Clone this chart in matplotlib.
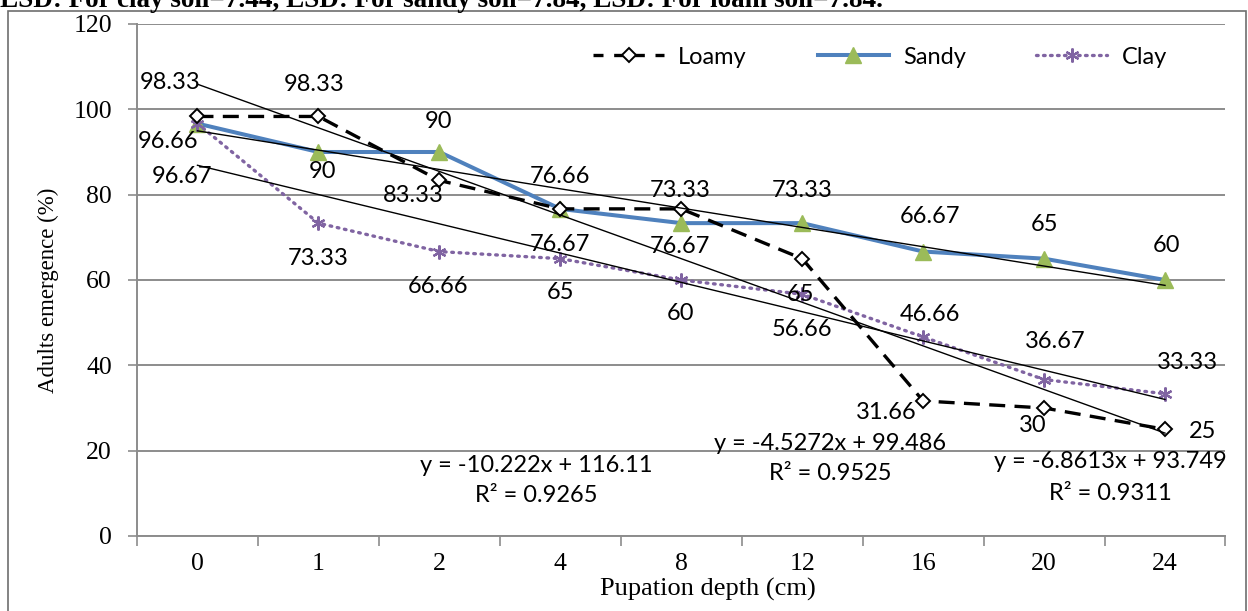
import matplotlib
matplotlib.use("Agg")
import matplotlib.pyplot as plt
from matplotlib.lines import Line2D
import numpy as np

# ---------------- data ----------------
depths = ["0", "1", "2", "4", "8", "12", "16", "20", "24"]
loamy = [98.33, 98.33, 83.33, 76.67, 76.67, 65, 31.66, 30, 25]
sandy = [96.66, 90, 90, 76.66, 73.33, 73.33, 66.67, 65, 60]
clay = [96.67, 73.33, 66.66, 65, 60, 56.66, 46.66, 36.67, 33.33]

loamy_labels = ["98.33", "98.33", "83.33", "76.67", "76.67", "65", "31.66", "30", "25"]
sandy_labels = ["96.66", "90", "90", "76.66", "73.33", "73.33", "66.67", "65", "60"]
clay_labels = ["96.67", "73.33", "66.66", "65", "60", "56.66", "46.66", "36.67", "33.33"]

# linear trendlines (x = 1..9), as reported on chart
trend_slope = {"Loamy": -10.222, "Sandy": -4.5272, "Clay": -6.8613}
trend_icpt = {"Loamy": 116.11, "Sandy": 99.486, "Clay": 93.749}
trend_r2 = {"Loamy": "0.9265", "Sandy": "0.9525", "Clay": "0.9311"}

title_text = "LSD: For clay soil=7.44, LSD: For sandy soil=7.84, LSD: For loam soil=7.84."

# label offsets (pixels, image coords: +dy = downward)
loamy_off = [(-27, -34), (-4, -32), (-26, 15), (0, 36), (-1, 38), (-2, 36), (-37, 12), (-11, 17), (38, 2)]
sandy_off = [(-29, 18), (4, 20), (-1, -30), (0, -32), (-1, -33), (0, -33), (7, -35), (0, -34), (1, -34)]
clay_off = [(-15, 53), (0, 35), (-1, 35), (0, 34), (-1, 34), (0, 35), (7, -22), (11, -38), (22, -31)]

# ---------------- figure ----------------
W, H = 1248, 611
fig = plt.figure(figsize=(W / 100, H / 100), dpi=100)
fig.patch.set_facecolor("white")

ax_l, ax_r, ax_t, ax_b = 137, 1225.5, 24, 536
ax = fig.add_axes([ax_l / W, 1 - ax_b / H, (ax_r - ax_l) / W, (ax_b - ax_t) / H])

SANS = ["Lato", "DejaVu Sans"]
SERIF = ["Liberation Serif", "DejaVu Serif"]
GRID = "#8c8c8c"
LBL = 17

x = np.arange(len(depths))

# data lines
ax.plot(x, loamy, color="black", lw=2.4, dashes=(4.8, 2.8), marker="D", ms=7.5,
        mfc="white", mec="black", mew=1.4, zorder=4, label="Loamy")
ax.plot(x, sandy, color="#4F81BD", lw=2.9, marker="^", ms=11, mfc="#9BBB59",
        mec="#9BBB59", zorder=3, label="Sandy")
ax.plot(x, clay, color="#8064A2", lw=2.4, linestyle=(0, (0.5, 1.7)), dash_capstyle="round",
        marker=(6, 2, 0), ms=10, mec="#8064A2", mew=1.6, zorder=3, label="Clay")

# trendlines
xt = x + 1
for name in ["Loamy", "Sandy", "Clay"]:
    ax.plot(x, trend_slope[name] * xt + trend_icpt[name], color="black", lw=1.0, zorder=5)

# data labels
def put_labels(vals, labs, offs):
    for i, (v, t, (dx, dy)) in enumerate(zip(vals, labs, offs)):
        ax.annotate(t, (x[i], v), xytext=(dx, -dy), textcoords="offset pixels",
                    ha="center", va="center", fontsize=LBL, family=SANS, zorder=6)

put_labels(loamy, loamy_labels, loamy_off)
put_labels(sandy, sandy_labels, sandy_off)
put_labels(clay, clay_labels, clay_off)

# trendline equations
def fx(px):
    return (px - ax_l) / (ax_r - ax_l)

def fy(py):
    return (ax_b - py) / (ax_b - ax_t)

eq_pos = {"Loamy": (536, 465, 495), "Sandy": (830, 443, 473), "Clay": (1110, 462, 493)}
for name, (px, py1, py2) in eq_pos.items():
    s = trend_slope[name]
    eq = "y = -{:g}x + {:g}".format(abs(s), trend_icpt[name])
    ax.text(fx(px), fy(py1), eq, transform=ax.transAxes, ha="center", va="center",
            fontsize=LBL, family=SANS, zorder=6)
    ax.text(fx(px), fy(py2), "R\u00b2 = " + trend_r2[name], transform=ax.transAxes,
            ha="center", va="center", fontsize=LBL, family=SANS, zorder=6)

# axes styling
ax.set_xlim(-0.5, len(depths) - 0.5)
ax.set_ylim(0, 120)
ax.set_yticks(np.arange(0, 121, 20))
ax.yaxis.grid(True, color=GRID, lw=1.4)
ax.set_axisbelow(True)
for sp in ["top", "right"]:
    ax.spines[sp].set_visible(False)
for sp in ["left", "bottom"]:
    ax.spines[sp].set_color(GRID)
    ax.spines[sp].set_linewidth(1.4)

ax.set_xticks(np.arange(-0.5, len(depths), 1.0))
ax.set_xticklabels([])
ax.tick_params(axis="x", which="major", length=7, color=GRID, width=1.2, direction="out")
ax.set_xticks(x, minor=True)
ax.set_xticklabels(depths, minor=True, fontsize=18.5, family=SERIF)
ax.tick_params(axis="x", which="minor", length=0, pad=12)
ax.tick_params(axis="y", length=6.5, color=GRID, width=1.2, labelsize=18.5, pad=11.5)
for lab in ax.get_yticklabels():
    lab.set_family(SERIF)

ax.set_xlabel("Pupation depth (cm)", fontsize=19, family=SERIF, labelpad=2, x=fx(708))
ax.set_ylabel("Adults emergence (%)", fontsize=16.5, family=SERIF, labelpad=10, y=fy(290))

# legend
handles = [
    Line2D([], [], color="black", lw=2.4, dashes=(3.0, 3.2), marker="D", ms=7.5,
           mfc="white", mec="black", mew=1.4),
    Line2D([], [], color="#4F81BD", lw=2.9, marker="^", ms=11, mfc="#9BBB59", mec="#9BBB59"),
    Line2D([], [], color="#8064A2", lw=2.4, linestyle=(0, (0.5, 1.6)), dash_capstyle="round",
           marker=(6, 2, 0), ms=10, mec="#8064A2", mew=1.6),
]
leg = ax.legend(handles, ["Loamy", "Sandy", "Clay"], ncol=3, frameon=False,
                loc="center", bbox_to_anchor=(fx(880), fy(57)),
                prop={"family": SANS, "size": LBL}, handlelength=3.0,
                handletextpad=0.6, columnspacing=3.0)

# outer border
fig.add_artist(plt.Rectangle((8 / W, -0.05), (1246 - 8) / W, 1.05 - 11 / H,
                             transform=fig.transFigure, fill=False, ec="#6e6e6e", lw=1.2))

# cut-off title at the very top
fig.text(0.0, 1 - 7 / H, title_text, ha="left", va="baseline", fontsize=19.5,
         family=SERIF, fontweight="bold")

fig.savefig("out.png", dpi=100)
